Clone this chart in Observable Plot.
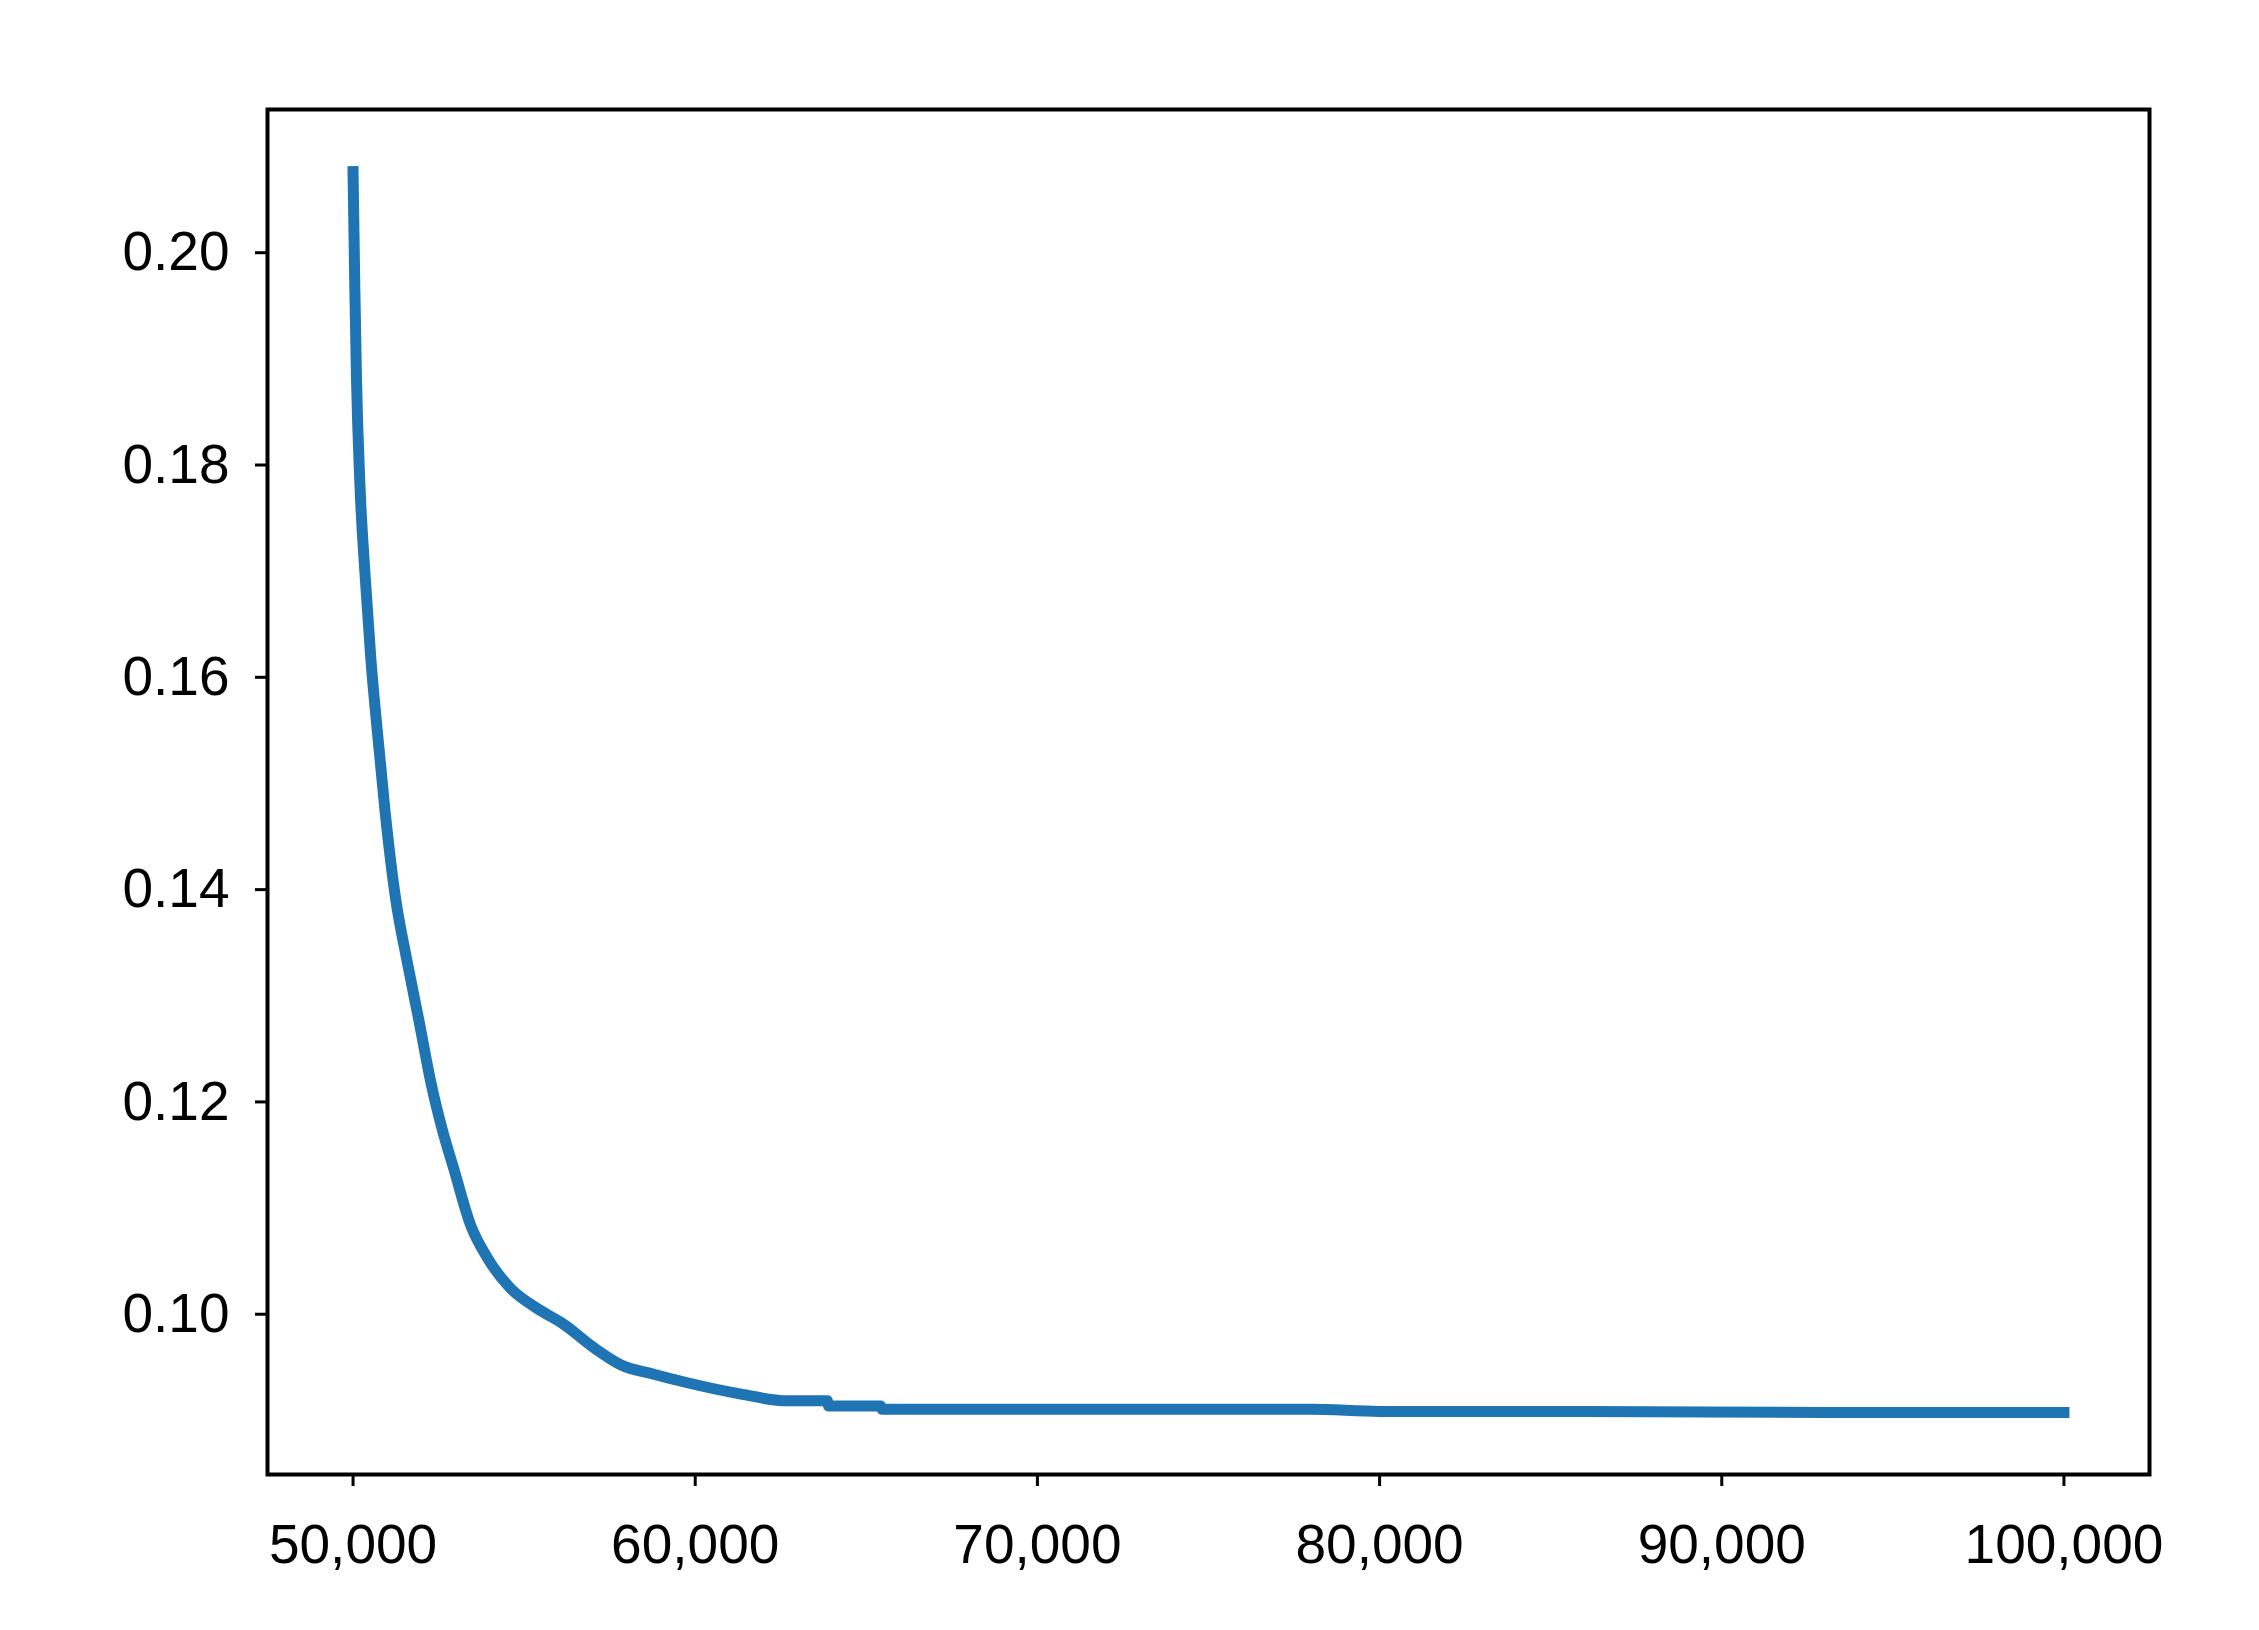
<!DOCTYPE html>
<html>
<head>
<meta charset="utf-8">
<script src="https://cdn.jsdelivr.net/npm/d3@7"></script>
<script src="https://cdn.jsdelivr.net/npm/@observablehq/plot@0.6"></script>
<style>
  html, body { margin: 0; padding: 0; background: white; }
  #chart svg { display: block; }
</style>
</head>
<body>
<div id="chart"></div>
<script>
// Data
const steps = [
  50000, 50050, 50100, 50200, 50360, 50520, 50700, 50940, 51240, 51580,
  51920, 52280, 52620, 52940, 53430, 53920, 54600, 55380, 56160, 57040,
  57820, 58790, 59770, 61230, 62690, 63860, 63900, 65420, 65460, 72000,
  78000, 80000, 86000, 93000, 100000
];
const values = [
  0.2084, 0.1978, 0.1890, 0.1790, 0.1700, 0.1625, 0.1560, 0.1480, 0.1400, 0.1340,
  0.1285, 0.1225, 0.1180, 0.1145, 0.1092, 0.1061, 0.1032, 0.1013, 0.0998, 0.0976,
  0.0960, 0.0951, 0.0943, 0.0933, 0.0926, 0.0926, 0.0921, 0.0921, 0.0918, 0.0918,
  0.0918, 0.0916, 0.0916, 0.0915, 0.0915
];
const xTicks = [50000, 60000, 70000, 80000, 90000, 100000];
const yTicks = [0.10, 0.12, 0.14, 0.16, 0.18, 0.20];

const data = steps.map((s, i) => ({step: s, value: values[i]}));

// matplotlib-style 5% axis padding
const xMin = d3.min(steps), xMax = d3.max(steps);
const yMin = d3.min(values), yMax = d3.max(values);
const xPad = (xMax - xMin) * 0.05, yPad = (yMax - yMin) * 0.05;

const chart = Plot.plot({
  width: 2259,
  height: 1630,
  marginLeft: 267,
  marginRight: 110,
  marginTop: 109,
  marginBottom: 156,
  style: {
    fontFamily: "'Liberation Sans', Arial, Helvetica, sans-serif",
    fontSize: "55px",
    background: "white",
    color: "black"
  },
  x: {domain: [xMin - xPad, xMax + xPad], label: null},
  y: {domain: [yMin - yPad, yMax + yPad], label: null},
  marks: [
    Plot.line(data, {
      x: "step", y: "value",
      stroke: "#1f74b3", strokeWidth: 11,
      curve: "monotone-x",
      strokeLinecap: "square", strokeLinejoin: "round"
    }),
    Plot.frame({stroke: "black", strokeWidth: 4}),
    Plot.axisX(xTicks, {
      tickSize: 12, tickPadding: 37, strokeWidth: 3,
      tickFormat: d3.format(","), fontSize: 55, label: null, stroke: "black"
    }),
    Plot.axisY(yTicks, {
      tickSize: 12, tickPadding: 26, strokeWidth: 3, dy: -8,
      tickFormat: d3.format(".2f"), fontSize: 55, label: null, stroke: "black"
    })
  ]
});
document.getElementById("chart").appendChild(chart);
</script>
</body>
</html>
